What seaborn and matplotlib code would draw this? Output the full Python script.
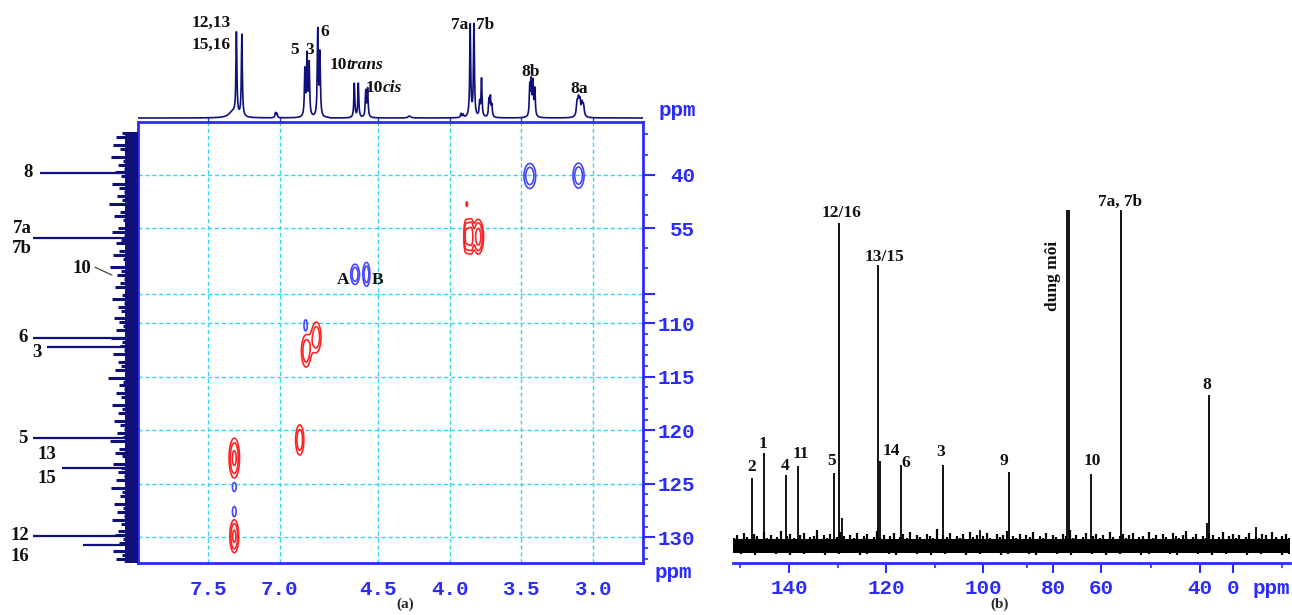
import numpy as np
import pandas as pd
import matplotlib
matplotlib.use("Agg")
import matplotlib.pyplot as plt
import seaborn as sns
from matplotlib.ticker import FixedLocator

# ---------------- values ----------------
# (a) 1H trace on top: line position (ppm), height, half width (ppm)
h1_ppm = [7.330, 7.303, 7.265, 7.030, 7.020, 6.825, 6.810, 6.795, 6.735, 6.720,
          4.665, 4.637, 4.585, 4.572, 4.280, 3.920, 3.905, 3.856, 3.830, 3.790,
          3.777, 3.725, 3.715, 3.705, 3.440, 3.430, 3.418, 3.405, 3.110, 3.100,
          3.090, 3.075, 3.065]
h1_height = [6, 82, 82, 5, 4, 46, 60, 52, 86, 62,
             34, 34, 26, 28, 2, 4, 3, 92, 92, 14,
             38, 17, 19, 11, 30, 33, 33, 27, 13, 15,
             14, 12, 10]
h1_width = [0.030, 0.004, 0.004, 0.004, 0.004, 0.004, 0.004, 0.004, 0.004, 0.004,
            0.004, 0.004, 0.004, 0.004, 0.010, 0.004, 0.004, 0.004, 0.004, 0.004,
            0.004, 0.004, 0.004, 0.004, 0.004, 0.004, 0.004, 0.004, 0.006, 0.006,
            0.006, 0.006, 0.006]

# (a) HSQC cross peaks: 1H ppm, 13C ppm, spreads, amplitude
red_x = [7.318, 7.318, 6.861, 6.817, 6.745, 3.888, 3.868, 3.848, 3.800, 3.880]
red_y = [129.9, 122.6, 120.9, 112.6, 111.3, 57.3, 57.3, 57.3, 57.4, 48.2]
red_sx = [0.022, 0.026, 0.023, 0.026, 0.026, 0.010, 0.010, 0.010, 0.025, 0.006]
red_sy = [1.10, 1.33, 1.13, 1.20, 1.13, 3.3, 3.3, 3.3, 3.3, 0.74]
red_amp = [0.8, 0.8, 0.65, 0.65, 0.65, 0.7, 0.7, 0.7, 0.9, 0.4]

blue_x = [3.440, 3.100, 4.660, 4.580, 6.820, 7.318, 7.318]
blue_y = [40.3, 40.2, 68.0, 68.0, 110.2, 125.3, 127.6]
blue_sx = [0.033, 0.031, 0.024, 0.019, 0.015, 0.017, 0.017]
blue_sy = [2.83, 2.83, 2.3, 2.7, 0.68, 0.55, 0.62]
blue_amp = [0.65, 0.65, 0.65, 0.65, 0.4, 0.4, 0.4]

# (a) 13C projection on the left: strong lines (ppm, length) and noise spikes
proj_ppm = [39.4, 57.8, 111.4, 112.2, 120.7, 123.5, 129.9, 130.7]
proj_len = [98, 105, 105, 91, 105, 76, 105, 55]
proj_noise = [16, 22, 13, 25, 18, 12, 27, 15, 20, 14, 23, 17, 12, 26, 19, 14,
              21, 16, 29, 13, 18, 24, 15, 12, 20, 26, 14, 17, 22, 13, 19, 25,
              15, 12, 28, 17, 21, 14, 18, 23, 12, 16, 26, 14, 20, 17, 13, 24,
              19, 15, 22, 12, 27, 16, 18, 14, 25, 13, 20, 17, 23, 12, 30, 15,
              19, 14, 22, 17, 13, 26, 16, 20, 12, 24, 18, 14, 21, 15, 28, 13,
              19, 23, 16, 12, 25, 17, 20, 14, 22, 13, 27, 16, 18, 12, 24, 15,
              21, 14, 26, 17, 13, 20, 23, 15, 19, 12, 25, 16, 22, 14]

# (b) 13C spectrum
c_ppm = [147.6, 145.1, 140.7, 138.1, 130.8, 129.7, 129.2, 121.6, 121.3, 117.0,
         108.4, 100.7, 92.8, 74.4, 73.4, 64.3, 55.9, 31.0, 28.7, -4.6]
c_height = [67, 92, 70, 79, 72, 322, 27, 280, 84, 80,
            80, 15, 73, 335, 335, 71, 335, 22, 150, 18]
b_noise_up = [6, 9, 4, 11, 7, 5, 10, 8, 4, 12, 6, 9, 5, 7, 13, 4, 8, 10, 6, 5,
              9, 11, 4, 7, 8, 14, 5, 9, 6, 10, 4, 7, 12, 8, 5, 9, 6, 11, 4, 8,
              10, 5, 7, 13, 6, 9, 4, 8, 11, 5, 7, 10, 6, 12, 4, 9, 7, 5, 10, 8,
              6, 15, 4, 9, 7, 11, 5, 8, 6, 10, 4, 12, 7, 9, 5, 8, 11, 6, 4, 10,
              7, 9, 13, 5, 8, 6, 10, 4, 9, 7, 12, 5, 8, 6, 11, 4, 9, 7, 5, 10,
              8, 14, 6, 9, 4, 7, 11, 5, 8, 10, 6, 9, 4, 12, 7, 5, 8, 10, 6, 9,
              11, 4, 7, 8, 5, 12, 6, 9, 4, 10, 7, 5, 11, 8, 6, 9, 13, 4, 7, 10,
              5, 8, 6, 11, 9, 4, 7, 12, 5, 8, 10, 6, 9, 4, 7, 11, 5, 8, 6, 10,
              9, 4, 12, 7, 5, 8, 10, 6]
b_noise_lo = [-8, -9, -7, -10, -8, -7, -9, -8, -10, -7, -9, -8, -7, -10, -8,
              -9, -7, -8, -10, -9, -7, -8, -9, -10, -7, -8, -9, -7, -10, -8,
              -9, -7, -8, -10, -7, -9, -8, -7, -10, -9, -8, -7, -9, -10, -8,
              -7, -9, -8, -10, -7, -8, -9, -7, -10, -8, -9, -7, -8, -10, -9,
              -7, -8, -9, -10, -7, -8, -9, -7, -10, -8, -9, -7, -8, -10, -7,
              -9, -8, -7, -10, -9]

# tick labels
a_xticks = [7.5, 7.0, 4.5, 4.0, 3.5, 3.0]
a_yticks = [40, 55, 107.3, 110, 115, 120, 125, 130]
a_ylabels = ["40", "55", "", "110", "115", "120", "125", "130"]
b_xticks = [140, 120, 100, 80, 60, 40, 0]
b_minor = [150, 130, 110, 87.5, 50, -10]

# ---------------- styling ----------------
BLUE = "#2b2bff"
NAVY = "#10107a"
CYAN = "#2fd8ee"
RED = "#ff2424"
CBLUE = "#4646ff"
SERIF = "Liberation Serif"
W, H = 1292, 615

sns.set_theme(style="white")
plt.rcParams["font.family"] = ["Liberation Mono", "DejaVu Sans"]
plt.rcParams["font.weight"] = "bold"


def box(x0, y0, x1, y1):
    return [x0 / W, 1 - y1 / H, (x1 - x0) / W, (y1 - y0) / H]


def piecewise(xp, up):
    xp = np.asarray(xp, float)
    up = np.asarray(up, float)
    return (lambda v: np.interp(np.asarray(v, float), xp, up),
            lambda u: np.interp(np.asarray(u, float), up, xp))


# broken axes of panel (a): 1H 6.65..4.83 cut out, 13C 73.6..107.3 cut out
h_fwd, h_inv = piecewise([-5, 4.83, 6.65, 15], [-5, 4.83, 4.835, 13.185])
c_fwd, c_inv = piecewise([-100, 73.6, 107.3, 300],
                         [-100 * 3.55, 73.6 * 3.55, 73.6 * 3.55 + 0.1,
                          73.6 * 3.55 + 0.1 + 192.7 * 10.7])
# uneven axis of panel (b)
b_fwd, b_inv = piecewise([-40, 0, 40, 60, 80, 100, 140, 180],
                         [-196, 0, 33.3, 132, 179.9, 250, 444.3, 639.7])

fig = plt.figure(figsize=(W / 100, H / 100), dpi=100)
ax1 = fig.add_axes(box(138, 0, 643, 121))
ax2 = fig.add_axes(box(138, 122, 643, 563))
axp = fig.add_axes(box(0, 122, 138, 563))
axb = fig.add_axes(box(733, 190, 1290, 563))
for a in (ax1, ax2, axp, axb):
    a.set_facecolor("none")

for a in (ax1, ax2):
    a.set_xscale("function", functions=(h_fwd, h_inv))
    a.set_xlim(7.99, 2.65)
for a in (ax2, axp):
    a.set_yscale("function", functions=(c_fwd, c_inv))
    a.set_ylim(132.4, 25.1)

# ---- 1H trace ----
grid = np.arange(2.65, 7.995, 0.0005)
spec = np.zeros_like(grid)
for p, hh, g in zip(h1_ppm, h1_height, h1_width):
    spec += hh * g ** 2 / ((grid - p) ** 2 + g ** 2)
df1 = pd.DataFrame({"ppm": grid, "intensity": spec})
sns.lineplot(data=df1, x="ppm", y="intensity", ax=ax1, color=NAVY,
             linewidth=1.2, estimator=None, sort=False)
ax1.set_ylim(-3, 118)
ax1.set_xlabel("")
ax1.set_ylabel("")
ax1.set_yticks([])
ax1.xaxis.set_major_locator(FixedLocator(a_xticks))
ax1.tick_params(axis="x", direction="in", length=3, width=1, color=BLUE,
                labelbottom=False, bottom=True)
for s in ax1.spines.values():
    s.set_visible(False)

lab = dict(family=SERIF, weight="bold", fontsize=12.5, color="#111111",
           ha="center", va="center")
ax1.text(7.48, 95, "12,13", **lab)
ax1.text(7.48, 73, "15,16", **lab)
ax1.text(6.90, 68, "5", **lab)
ax1.text(6.79, 68, "3", **lab)
ax1.text(6.685, 86, "6", **lab)
ax1.text(4.719, 53, "10", **{**lab, "ha": "right"})
ax1.text(4.719, 53, "trans", style="italic", **{**lab, "ha": "left"})
ax1.text(4.467, 30, "10", **{**lab, "ha": "right"})
ax1.text(4.467, 30, "cis", style="italic", **{**lab, "ha": "left"})
ax1.text(3.932, 93, "7a", **lab)
ax1.text(3.753, 93, "7b", **lab)
ax1.text(3.432, 46, "8b", **lab)
ax1.text(3.099, 29, "8a", **lab)

# ---- HSQC contours ----
gx = np.concatenate([np.arange(2.65, 4.9, 0.0015), np.arange(6.6, 8.0, 0.0015)])
gy = np.concatenate([np.arange(25, 74, 0.1), np.arange(107, 133, 0.04)])


def field(xs, ys, sxs, sys_, amps):
    f = np.zeros((len(gy), len(gx)))
    for x0, y0, sx, sy, a in zip(xs, ys, sxs, sys_, amps):
        f += a * np.outer(np.exp(-0.5 * ((gy - y0) / sy) ** 2),
                          np.exp(-0.5 * ((gx - x0) / sx) ** 2))
    return f


levels = [0.3, 0.45, 0.7, 0.95]
ax2.contour(gx, gy, field(red_x, red_y, red_sx, red_sy, red_amp),
            levels=levels, colors=RED, linewidths=1.2)
ax2.contour(gx, gy, field(blue_x, blue_y, blue_sx, blue_sy, blue_amp),
            levels=levels, colors=CBLUE, linewidths=1.2)
ax2.text(4.745, 69.6, "A", **lab)
ax2.text(4.50, 69.6, "B", **lab)

minor_x = [round(v, 1) for v in np.arange(6.7, 7.95, 0.1)] + \
          [round(v, 1) for v in np.arange(2.7, 4.85, 0.1)]
ax2.xaxis.set_major_locator(FixedLocator(a_xticks))
ax2.set_xticklabels([f"{v:.1f}" for v in a_xticks])
ax2.xaxis.set_minor_locator(FixedLocator(minor_x))
ax2.yaxis.set_major_locator(FixedLocator(a_yticks))
ax2.set_yticklabels(a_ylabels)
ax2.yaxis.set_minor_locator(FixedLocator(
    [28.5, 34.3, 45.7, 51.3, 60.7, 66.3] + list(range(108, 133))))
ax2.yaxis.tick_right()
ax2.grid(True, which="major", color=CYAN, linestyle=(0, (3, 2)), linewidth=1)
ax2.tick_params(axis="x", which="major", direction="out", length=7.2,
                width=1.5, color=BLUE, labelcolor=BLUE, labelsize=15, pad=5)
ax2.tick_params(axis="x", which="minor", direction="out", length=3,
                width=1.2, color=BLUE)
ax2.tick_params(axis="y", which="major", direction="out", length=8.6,
                width=1.5, color=BLUE, labelcolor=BLUE, labelsize=15, pad=29)
ax2.tick_params(axis="y", which="minor", direction="out", length=3.6,
                width=1.2, color=BLUE)
for t in ax2.get_yticklabels():
    t.set_horizontalalignment("right")
for s in ax2.spines.values():
    s.set_color(BLUE)
    s.set_linewidth(2)

# ---- 13C projection ----
axp.set_xlim(138, 0)
ny = c_inv(np.linspace(c_fwd(28.2), c_fwd(132.4), len(proj_noise)))
axp.fill_betweenx([28.2, 132.4], 0, 13, color=NAVY, linewidth=0)
axp.hlines(ny, 0, proj_noise, color=NAVY, linewidth=2.2)
axp.hlines(proj_ppm, 0, proj_len, color=NAVY, linewidth=1.6)
axp.plot([43, 26], [66.0, 68.2], color="#333333", linewidth=0.8)
plab = {**lab, "fontsize": 13.5}
axp.text(110, 39.4, "8", **plab)
axp.text(116, 55.0, "7a", **plab)
axp.text(116, 60.6, "7b", **plab)
axp.text(56, 66.3, "10", **plab)
axp.text(115, 111.3, "6", **plab)
axp.text(101, 112.7, "3", **plab)
axp.text(115, 120.75, "5", **plab)
axp.text(91, 122.3, "13", **plab)
axp.text(91, 124.5, "15", **plab)
axp.text(118, 129.8, "12", **plab)
axp.text(118, 131.8, "16", **plab)
axp.axis("off")

# ---- panel (b) 13C spectrum ----
axb.set_xscale("function", functions=(b_fwd, b_inv))
axb.set_xlim(151.5, -11.6)
axb.set_ylim(-18, 355)
xu = b_inv(np.linspace(b_fwd(151.3), b_fwd(-11.4), len(b_noise_up)))
xl = b_inv(np.linspace(b_fwd(151.3), b_fwd(-11.4), len(b_noise_lo)))
axb.fill_between([151.3, -11.4], -8, 6, color="black", linewidth=0)
axb.vlines(xu, 0, [v + 1 for v in b_noise_up], color="black", linewidth=1.6)
axb.vlines(xl, b_noise_lo, 0, color="black", linewidth=1.6)
axb.vlines(c_ppm, -5, c_height, color="black", linewidth=1.3)
axb.xaxis.set_major_locator(FixedLocator(b_xticks))
axb.set_xticklabels([str(v) for v in b_xticks])
axb.xaxis.set_minor_locator(FixedLocator(b_minor))
axb.set_yticks([])
axb.tick_params(axis="x", which="major", direction="out", length=7.2,
                width=1.5, color=BLUE, labelcolor=BLUE, labelsize=15, pad=4,
                bottom=True)
axb.tick_params(axis="x", which="minor", direction="out", length=3.5,
                width=1.2, color=BLUE, bottom=True)
for k, s in axb.spines.items():
    s.set_visible(k == "bottom")
axb.spines["bottom"].set_color(BLUE)
axb.spines["bottom"].set_linewidth(2)

axb.text(147.6, 78, "2", **lab)
axb.text(145.3, 101, "1", **lab)
axb.text(140.8, 79, "4", **lab)
axb.text(137.6, 91, "11", **lab)
axb.text(131.2, 84, "5", **lab)
axb.text(129.3, 332, "12/16", **lab)
axb.text(120.45, 288, "13/15", **lab)
axb.text(118.85, 94, "14", **lab)
axb.text(115.9, 82, "6", **lab)
axb.text(108.9, 93, "3", **lab)
axb.text(94.0, 84, "9", **lab)
axb.text(80.0, 269, "dung môi", rotation=90, **lab)
axb.text(63.9, 84, "10", **lab)
axb.text(56.1, 343, "7a, 7b", **lab)
axb.text(31.6, 160, "8", **lab)

# ---- loose texts ----
ppm_kw = dict(color=BLUE, fontsize=15, weight="bold", ha="center", va="center")
fig.text(677 / W, 1 - 110 / H, "ppm", **ppm_kw)
fig.text(673 / W, 1 - 572 / H, "ppm", **ppm_kw)
fig.text(1271 / W, 1 - 588 / H, "ppm", **ppm_kw)
fig.text(405 / W, 1 - 604 / H, "(a)", family=SERIF, weight="bold",
         fontsize=11, ha="center", va="center")
fig.text(1000 / W, 1 - 604 / H, "(b)", family=SERIF, weight="bold",
         fontsize=11, ha="center", va="center")

fig.savefig("out.png", dpi=100)
